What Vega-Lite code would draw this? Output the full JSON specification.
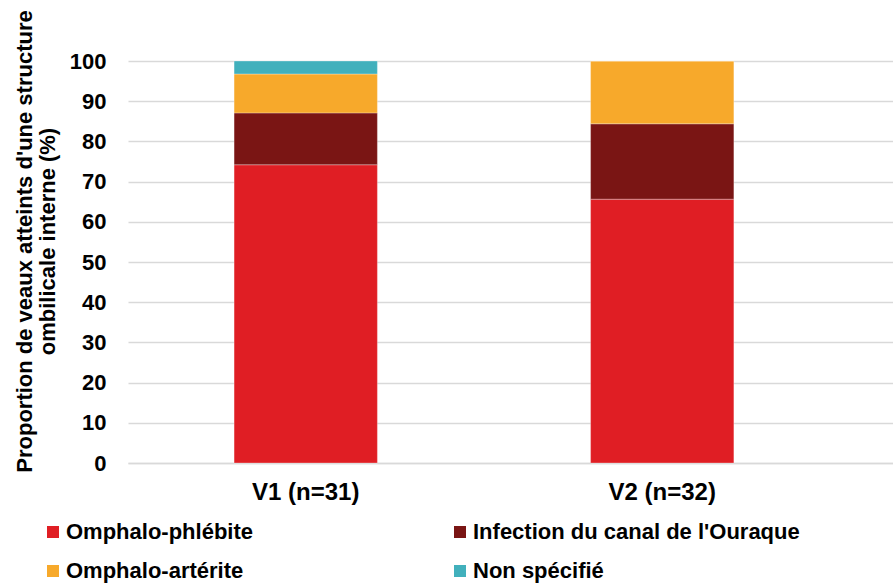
{
  "$schema": "https://vega.github.io/schema/vega-lite/v6.json",
  "autosize": "none",
  "width": 765,
  "height": 402,
  "padding": {"left": 128, "top": 61, "right": 0, "bottom": 121},
  "background": "white",
  "config": {
    "font": "Liberation Sans",
    "view": {"stroke": null}
  },
  "data": {
    "values": [
      {"groupe": "V1 (n=31)", "type": "Omphalo-phlébite", "rang": 1, "pct": 74.19},
      {"groupe": "V1 (n=31)", "type": "Infection du canal de l'Ouraque", "rang": 2, "pct": 12.90},
      {"groupe": "V1 (n=31)", "type": "Omphalo-artérite", "rang": 3, "pct": 9.68},
      {"groupe": "V1 (n=31)", "type": "Non spécifié", "rang": 4, "pct": 3.23},
      {"groupe": "V2 (n=32)", "type": "Omphalo-phlébite", "rang": 1, "pct": 65.63},
      {"groupe": "V2 (n=32)", "type": "Infection du canal de l'Ouraque", "rang": 2, "pct": 18.75},
      {"groupe": "V2 (n=32)", "type": "Omphalo-artérite", "rang": 3, "pct": 15.62},
      {"groupe": "V2 (n=32)", "type": "Non spécifié", "rang": 4, "pct": 0}
    ]
  },
  "mark": {"type": "bar", "stroke": "#ffffff", "strokeWidth": 0.6, "strokeOpacity": 0.5},
  "encoding": {
    "x": {
      "field": "groupe",
      "type": "nominal",
      "sort": null,
      "scale": {"paddingInner": 0.598, "paddingOuter": 0.372, "align": 0.4},
      "axis": {
        "title": null,
        "labelAngle": 0,
        "labelFontSize": 24,
        "labelFontWeight": "bold",
        "labelColor": "#000000",
        "labelPadding": 17,
        "ticks": false,
        "domainColor": "#d9d9d9",
        "domainWidth": 1.5
      }
    },
    "y": {
      "field": "pct",
      "type": "quantitative",
      "stack": "zero",
      "scale": {"domain": [0, 100], "nice": false},
      "axis": {
        "title": ["Proportion de veaux atteints d'une structure", "ombilicale interne (%)"],
        "titleFontSize": 22,
        "titleFontWeight": "bold",
        "titleColor": "#000000",
        "titleLineHeight": 23,
        "titlePadding": 10,
        "titleY": 180,
        "values": [0, 10, 20, 30, 40, 50, 60, 70, 80, 90, 100],
        "labelFontSize": 22,
        "labelFontWeight": "bold",
        "labelColor": "#000000",
        "labelPadding": 22,
        "ticks": false,
        "domain": false,
        "grid": true,
        "gridColor": "#d9d9d9",
        "gridWidth": 1.5
      }
    },
    "color": {
      "field": "type",
      "type": "nominal",
      "scale": {
        "domain": ["Omphalo-phlébite", "Infection du canal de l'Ouraque", "Omphalo-artérite", "Non spécifié"],
        "range": ["#e01e24", "#7a1514", "#f7a92b", "#41b0bc"]
      },
      "legend": {
        "title": null,
        "orient": "none",
        "legendX": -86,
        "legendY": 460,
        "padding": 0,
        "columns": 2,
        "direction": "horizontal",
        "symbolType": "square",
        "symbolSize": 144,
        "symbolStrokeWidth": 0,
        "symbolOffset": 0,
        "labelOffset": 2,
        "labelFontSize": 22,
        "labelFontWeight": "bold",
        "labelColor": "#000000",
        "labelLimit": 400,
        "columnPadding": 196,
        "rowPadding": 17
      }
    },
    "order": {"field": "rang", "type": "quantitative", "sort": "ascending"}
  }
}
